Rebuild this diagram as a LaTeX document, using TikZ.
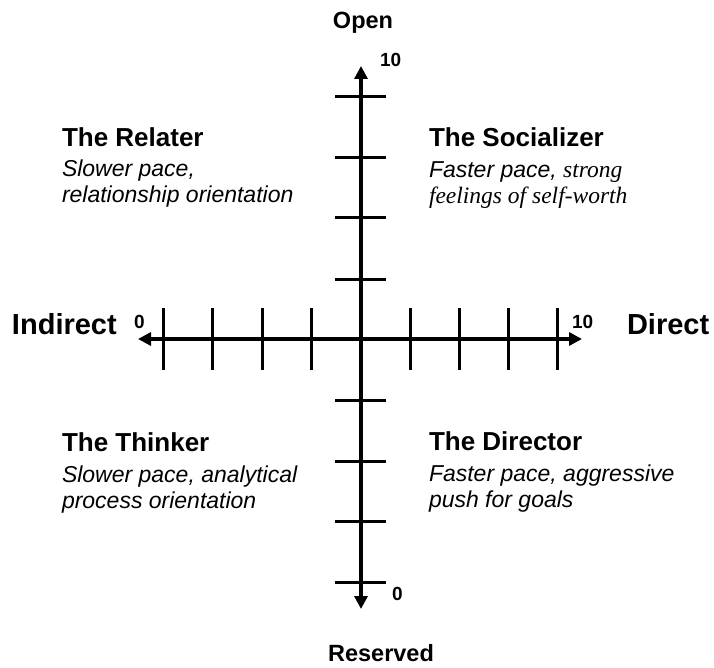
\documentclass[tikz,border=0pt]{standalone}
\usepackage{fontspec}
\setmainfont{Liberation Sans}
\newfontfamily\serifface{Liberation Serif}
\usetikzlibrary{arrows.meta}
\begin{document}
\begin{tikzpicture}[x=1pt,y=-1pt,
  axis/.style={line width=3.3pt, {Triangle[length=13pt,width=13pt]}-{Triangle[length=13pt,width=13pt]}},
  tickmark/.style={line width=3pt},
  txt/.style={anchor=base west, inner sep=0pt, outer sep=0pt},
  title/.style={txt, font=\bfseries\fontsize{26}{30}\selectfont},
  desc/.style={txt, font=\itshape\fontsize{23}{28}\selectfont},
  big/.style={txt, font=\bfseries\fontsize{29}{34}\selectfont},
  pole/.style={anchor=base, inner sep=0pt, font=\bfseries\fontsize{23.5}{28}\selectfont},
  num/.style={txt, font=\bfseries\fontsize{19}{22}\selectfont},
  serifpart/.style={font=\serifface\itshape\fontsize{23.5}{28}\selectfont}]
\useasboundingbox (0,0) rectangle (714,668);
% axes
\coordinate (L) at (138,339);
\coordinate (R) at (582,339);
\coordinate (T) at (361,66);
\coordinate (B) at (361,609);
\draw[axis] (L) -- (R);
\draw[axis] (B) -- (T);
\foreach \x in {163,212,262,311,410,459,508,557}
  \draw[tickmark] (\x,308) -- (\x,370);
\foreach \y in {97,158,218,279,400,461,521,582}
  \draw[tickmark] (335,\y) -- (386,\y);
% axis labels
\node[pole] (open) at (363,29) {Open};
\node[pole] (reserved) at (381,661) {Reserved};
\node[big] (indirect) at (12,334) {Indirect};
\node[big] (direct) at (627,334) {Direct};
\node[num] (n0l) at (134,328) {0};
\node[num] (n10r) at (572,328) {10};
\node[num] (n10t) at (380,67) {10};
\node[num] (n0b) at (392,600) {0};
% quadrants
\node[title] (relT) at (62,147) {The Relater};
\node[desc] (rel1) at (62,177) {Slower pace,};
\node[desc] (rel2) at (62,203) {relationship orientation};
\node[title] (socT) at (429,147) {The Socializer};
\node[desc] (soc1) at (429,178) {Faster pace, {\serifface\fontsize{23.5}{28}\selectfont strong}};
\node[desc] (soc2) at (429,204) {\serifface\fontsize{23.5}{28}\selectfont feelings of self-worth};
\node[title] (thiT) at (62,451) {The Thinker};
\node[desc] (thi1) at (62,482) {Slower pace, analytical};
\node[desc] (thi2) at (62,508) {process orientation};
\node[title] (dirT) at (429,450) {The Director};
\node[desc] (dir1) at (429,481) {Faster pace, aggressive};
\node[desc] (dir2) at (429,507) {push for goals};
\end{tikzpicture}
\end{document}
